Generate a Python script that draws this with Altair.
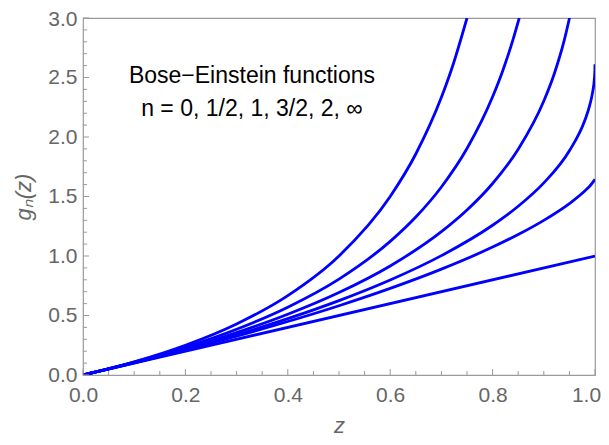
import altair as alt
import pandas as pd

# Bose-Einstein functions g_n(z)
z_g0 = [0.0, 0.1, 0.2, 0.3, 0.4, 0.5, 0.6, 0.65, 0.7, 0.72, 0.75]
g_g0 = [0.0, 0.111, 0.25, 0.429, 0.667, 1.0, 1.5, 1.857, 2.333, 2.571, 3.0]

z_g12 = [0.0, 0.1, 0.2, 0.3, 0.4, 0.5, 0.6, 0.65, 0.7, 0.75, 0.8, 0.82, 0.84, 0.852]
g_g12 = [0.0, 0.1077, 0.2338, 0.3848, 0.5701, 0.806, 1.1227, 1.3274, 1.580, 1.903, 2.3376, 2.5592, 2.8204, 3.0]

z_g1 = [0.0, 0.1, 0.2, 0.3, 0.4, 0.5, 0.6, 0.7, 0.75, 0.8, 0.85, 0.9, 0.92, 0.94, 0.9502]
g_g1 = [0.0, 0.1054, 0.2231, 0.3567, 0.5108, 0.6931, 0.9163, 1.204, 1.3863, 1.6094, 1.8971, 2.3026, 2.5257, 2.8134, 3.0]

z_g32 = [0.0, 0.1, 0.2, 0.3, 0.4, 0.5, 0.6, 0.7, 0.8, 0.85, 0.9, 0.95, 0.98, 0.99, 0.995, 0.999, 0.9999, 1.0]
g_g32 = [0.0, 0.1037, 0.2159, 0.3383, 0.4734, 0.6249, 0.7982, 1.0031, 1.2586, 1.4179, 1.6145, 1.8842, 2.138, 2.2717, 2.3687, 2.5017, 2.5771, 2.612]

z_g2 = [0.0, 0.1, 0.2, 0.3, 0.4, 0.5, 0.6, 0.7, 0.8, 0.85, 0.9, 0.95, 0.98, 0.99, 1.0]
g_g2 = [0.0, 0.1026, 0.211, 0.3261, 0.4493, 0.5822, 0.7276, 0.8894, 1.0748, 1.1806, 1.2997, 1.4406, 1.5458, 1.5886, 1.6449]

z_ginf = [0.0, 1.0]
g_ginf = [0.0, 1.0]

series_names = ["0", "1/2", "1", "3/2", "2", "inf"]
series_z = [z_g0, z_g12, z_g1, z_g32, z_g2, z_ginf]
series_g = [g_g0, g_g12, g_g1, g_g32, g_g2, g_ginf]

x_major = [0.0, 0.2, 0.4, 0.6, 0.8, 1.0]
x_minor = [0.05, 0.1, 0.15, 0.25, 0.3, 0.35, 0.45, 0.5, 0.55, 0.65, 0.7, 0.75, 0.85, 0.9, 0.95]
y_major = [0.0, 0.5, 1.0, 1.5, 2.0, 2.5, 3.0]
y_minor = [0.1, 0.2, 0.3, 0.4, 0.6, 0.7, 0.8, 0.9, 1.1, 1.2, 1.3, 1.4, 1.6, 1.7, 1.8, 1.9,
           2.1, 2.2, 2.3, 2.4, 2.6, 2.7, 2.8, 2.9]

note_lines = ["Bose\u2212Einstein functions", "n = 0, 1/2, 1, 3/2, 2, \u221e"]
note_z = [0.330, 0.330]
note_g = [2.454, 2.18]

rows = []
for name, zs, gs in zip(series_names, series_z, series_g):
    for i, (a, b) in enumerate(zip(zs, gs)):
        rows.append({"series": name, "order": i, "z": a, "g": b})
df = pd.DataFrame(rows)

W, H = 512, 357
FONT = "Liberation Sans"
GRAY = "#666666"
FRAME = "#9a9a9a"

xs = alt.Scale(domain=[0, 1], nice=False, zero=False)
ys = alt.Scale(domain=[0, 3], nice=False, zero=False)

xaxis = alt.Axis(
    values=x_major, format=".1f", title="z", titleFontStyle="italic",
    titleFontWeight="normal", titleFontSize=22, titleColor=GRAY, titleFont=FONT,
    titlePadding=10, labelPadding=9, labelFontSize=21, labelColor=GRAY, labelFont=FONT,
    labelOffset=alt.ExprRef("datum.value == 1 ? -9 : 0"),
    ticks=False, domain=False, grid=False, labelFlush=False)
yaxis = alt.Axis(
    values=y_major, format=".1f", title="g\u2099(z)", titleFontStyle="italic",
    titleFontWeight="normal", titleFontSize=22, titleColor=GRAY, titleFont=FONT,
    titlePadding=12, labelPadding=6, labelFontSize=21, labelColor=GRAY, labelFont=FONT,
    labelOffset=alt.ExprRef("datum.value == 3 ? 1.5 : 0"),
    ticks=False, domain=False, grid=False, labelFlush=False)

X = lambda: alt.X("z:Q", scale=xs, axis=xaxis)
Y = lambda: alt.Y("g:Q", scale=ys, axis=yaxis)

lines = alt.Chart(df).mark_line(color="#0000ff", strokeWidth=2.8, clip=True, interpolate="monotone").encode(
    x=X(), y=Y(), detail="series:N", order="order:Q")

def xticks(vals, length):
    return alt.Chart(pd.DataFrame({"z": vals})).mark_rule(color=FRAME, strokeWidth=1).encode(
        x=X(), y=alt.value(H), y2=alt.value(H - length))

def yticks(vals, length):
    return alt.Chart(pd.DataFrame({"g": vals})).mark_rule(color=FRAME, strokeWidth=1).encode(
        y=Y(), x=alt.value(0), x2=alt.value(length))

note = alt.Chart(pd.DataFrame({"z": note_z, "g": note_g, "t": note_lines})).mark_text(
    font=FONT, fontSize=23, color="black", align="center", baseline="alphabetic").encode(
    x=X(), y=Y(), text="t:N")

chart = alt.layer(
    lines, xticks(x_major, 6), xticks(x_minor, 4), yticks(y_major, 6), yticks(y_minor, 4), note
).properties(
    width=W, height=H,
    autosize=alt.AutoSizeParams(type="none"),
    padding={"left": 75, "top": 10, "right": 6, "bottom": 62},
    background="white",
).configure_view(stroke=FRAME, strokeWidth=1.2)

chart.save("out.html", embed_options={"renderer": "svg", "actions": False})
